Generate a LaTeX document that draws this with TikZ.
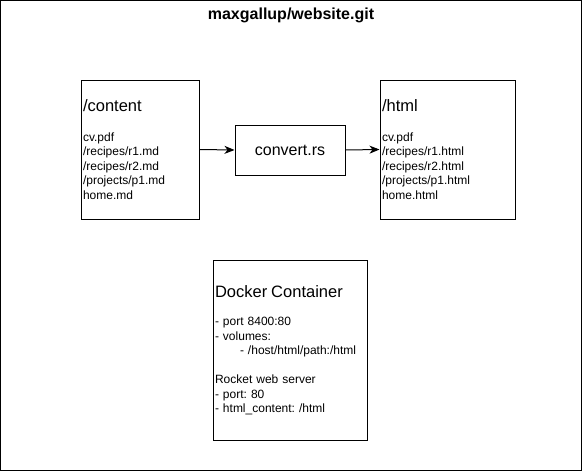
\documentclass[tikz,border=0pt]{standalone}
\usepackage{fontspec}
\setmainfont{Liberation Sans}
\usetikzlibrary{arrows.meta}

\newcommand{\bigline}[1]{{\fontsize{16.5}{19.5}\selectfont #1}}
\frenchspacing

\begin{document}
\begin{tikzpicture}[x=1pt, y=-1pt,
folderbox/.style={rectangle, draw=black, line width=1pt, inner sep=2pt, align=left, font=\fontsize{12}{14.5}\selectfont},
stepbox/.style={rectangle, draw=black, line width=1pt, minimum width=110pt, minimum height=50pt, font=\fontsize{16}{19}\selectfont},
flow/.style={line width=1pt, -{Stealth[length=10pt, width=8pt, inset=3pt]}}]

\useasboundingbox (0,0) rectangle (582,471);
\draw[line width=1pt] (0.5,0.5) rectangle (581.5,470.5);

\node[font=\bfseries\fontsize{16}{18}\selectfont](repo) at (291, 15){maxgallup/website.git};

\node[folderbox, minimum height=139pt, text width=114pt](content) at (140, 149.5){\bigline{/content}\\[15pt] cv.pdf\\ /recipes/r1.md\\ /recipes/r2.md\\ /projects/p1.md\\ home.md};

\node[stepbox](convert) at (290, 150){convert.rs};

\node[folderbox, minimum height=139pt, text width=131pt](html) at (447.5, 149.5){\bigline{/html}\\[15pt] cv.pdf\\ /recipes/r1.html\\ /recipes/r2.html\\ /projects/p1.html\\ home.html};

\draw[flow](content.east) -- (convert.west);
\draw[flow](convert.east) -- (html.west);

\node[folderbox, minimum height=180pt, text width=150pt](docker) at (290, 350){\bigline{Docker Container}\\[14pt] - port 8400:80\\ - volumes:\\ \hspace{25pt}- /host/html/path:/html\\[14.5pt] Rocket web server\\ - port: 80\\ - html\_content: /html};

\end{tikzpicture}
\end{document}
